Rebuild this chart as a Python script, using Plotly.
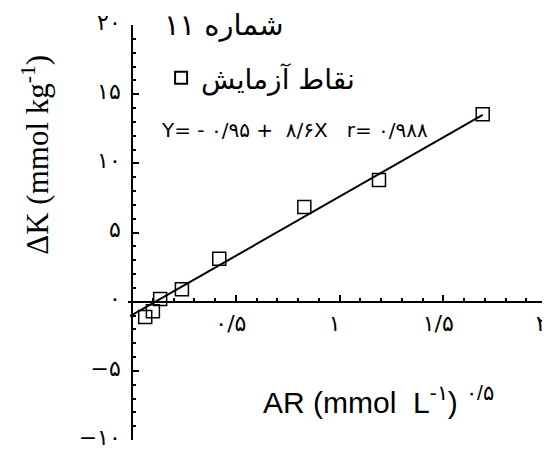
import plotly.graph_objects as go

AR = [0.063, 0.10, 0.135, 0.24, 0.42, 0.83, 1.19, 1.69]
DK = [-1.1, -0.7, 0.2, 0.9, 3.1, 6.85, 8.8, 13.55]

# end points of the fitted line
FIT_X = [-0.01, 1.69]
FIT_Y = [-1.05, 13.5]

X_TICKS = [0.5, 1, 1.5, 2]
X_TEXT = ["۰/۵", "۱", "۱/۵", "۲"]
Y_TICKS = [-10, -5, 0, 5, 10, 15, 20]
Y_TEXT = ["−۱۰", "−۵", "۰", "۵", "۱۰", "۱۵", "۲۰"]

X_RANGE = [-0.02, 2.0]
Y_RANGE = [-10, 20]

FA = "DejaVu Sans"
NB = "\u00a0"


def main():
    fig = go.Figure()

    fig.add_trace(
        go.Scatter(
            x=FIT_X,
            y=FIT_Y,
            mode="lines",
            line=dict(color="black", width=2),
            showlegend=False,
        )
    )
    fig.add_trace(
        go.Scatter(
            x=AR,
            y=DK,
            mode="markers",
            name="نقاط آزمایش",
            marker=dict(
                symbol="square-open",
                size=13,
                color="black",
                line=dict(width=1.5, color="black"),
            ),
            cliponaxis=False,
        )
    )

    x0 = (0 - X_RANGE[0]) / (X_RANGE[1] - X_RANGE[0])
    y0 = (0 - Y_RANGE[0]) / (Y_RANGE[1] - Y_RANGE[0])

    minor = dict(ticks="inside", ticklen=3, tickcolor="black", showgrid=False)

    fig.update_xaxes(
        range=X_RANGE,
        anchor="free",
        position=y0,
        automargin=False,
        showline=True,
        linecolor="black",
        linewidth=2,
        showgrid=False,
        zeroline=False,
        ticks="inside",
        ticklen=6,
        tickwidth=1.5,
        tickcolor="black",
        tickvals=X_TICKS,
        ticktext=X_TEXT,
        tickfont=dict(family=FA, size=22, color="black"),
        ticklabelstandoff=2,
        ticklabelshift=-5,
        ticklabeloverflow="allow",
        minor=dict(tickmode="linear", tick0=0, dtick=0.1, **minor),
    )
    fig.update_yaxes(
        range=Y_RANGE,
        anchor="free",
        position=x0,
        automargin=False,
        showline=True,
        linecolor="black",
        linewidth=2,
        showgrid=False,
        zeroline=False,
        ticks="inside",
        ticklen=6,
        tickwidth=1.5,
        tickcolor="black",
        tickvals=Y_TICKS,
        ticktext=Y_TEXT,
        tickfont=dict(family=FA, size=22, color="black"),
        ticklabelstandoff=6,
        ticklabelshift=-3,
        ticklabeloverflow="allow",
        minor=dict(tickmode="linear", tick0=0, dtick=1, **minor),
    )

    fig.add_annotation(
        text="شماره ۱۱",
        xref="paper",
        yref="paper",
        x=0.08,
        y=1.0,
        xanchor="left",
        yanchor="middle",
        showarrow=False,
        font=dict(family=FA, size=29, color="black"),
    )
    fig.add_annotation(
        text="Y= - ۰/۹۵ +  ۸/۶X   r= ۰/۹۸۸",
        xref="paper",
        yref="paper",
        x=0.074,
        y=0.747,
        xanchor="left",
        yanchor="middle",
        showarrow=False,
        font=dict(family=FA, size=20, color="black"),
    )
    fig.add_annotation(
        text=f"AR (mmol{NB}{NB}L<sup>-۱</sup>){NB}<sup>۰/۵</sup>",
        xref="paper",
        yref="paper",
        x=0.318,
        y=0.096,
        xanchor="left",
        yanchor="middle",
        showarrow=False,
        font=dict(family="Liberation Sans", size=30, color="black"),
    )
    fig.add_annotation(
        text="ΔK (mmol kg<sup>-1</sup>)",
        xref="paper",
        yref="paper",
        x=-0.22,
        y=0.687,
        xanchor="center",
        yanchor="middle",
        textangle=-90,
        showarrow=False,
        font=dict(family="Liberation Serif", size=31, color="black"),
    )

    # the page keeps an 8px body margin, so the figure is 8px smaller
    fig.update_layout(
        width=542,
        height=442,
        margin=dict(l=120, r=3, t=17, b=10),
        plot_bgcolor="white",
        paper_bgcolor="white",
        showlegend=True,
        legend=dict(
            x=0.079,
            y=0.872,
            xanchor="left",
            yanchor="middle",
            bgcolor="rgba(0,0,0,0)",
            font=dict(family=FA, size=28, color="black"),
            itemsizing="constant",
        ),
    )
    fig.write_html("out.html")


if __name__ == "__main__":
    main()
